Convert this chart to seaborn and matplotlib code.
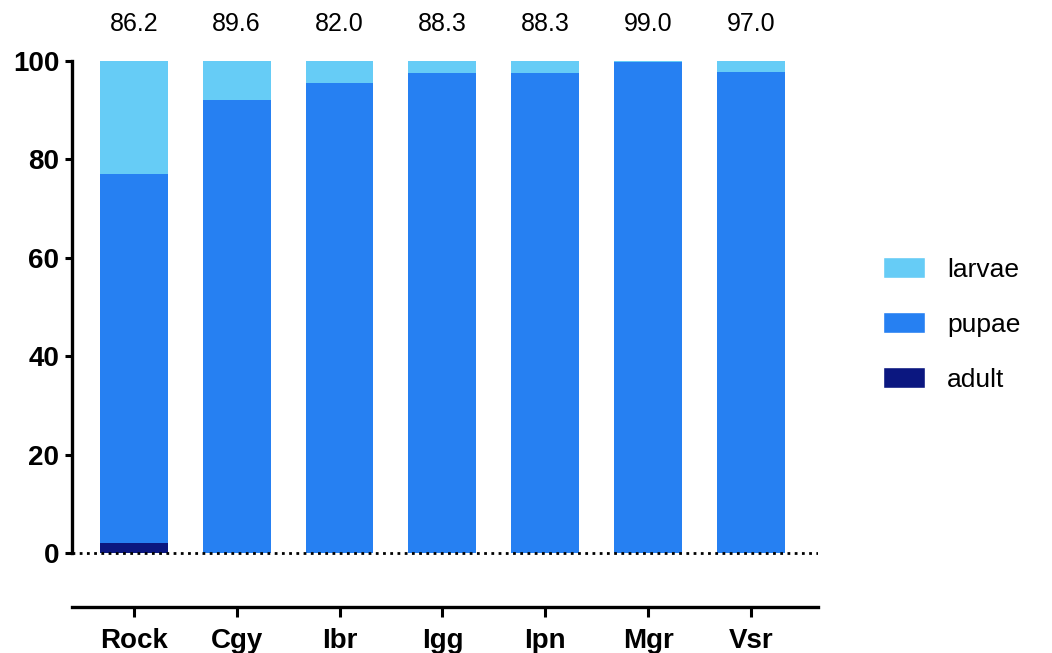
import matplotlib
matplotlib.use("Agg")
import matplotlib.pyplot as plt
from matplotlib.patches import Patch
import seaborn as sns
import pandas as pd

# Stage composition (%) per site
sites = ["Rock", "Cgy", "Ibr", "Igg", "Ipn", "Mgr", "Vsr"]
adult = [2.0, 0.0, 0.0, 0.0, 0.0, 0.0, 0.0]
pupae = [75.0, 92.0, 95.5, 97.5, 97.6, 99.7, 97.8]
larvae = [23.0, 8.0, 4.5, 2.5, 2.4, 0.3, 2.2]
# Values printed above each bar
top_values = [86.2, 89.6, 82.0, 88.3, 88.3, 99.0, 97.0]
y_ticks = [0, 20, 40, 60, 80, 100]

col_larvae = "#66CCF6"
col_pupae = "#2680F2"
col_adult = "#0B1780"

df = pd.DataFrame({"site": sites, "adult": adult, "pupae": pupae, "larvae": larvae})
df["cum_adult"] = df["adult"]
df["cum_pupae"] = df["adult"] + df["pupae"]
df["cum_larvae"] = df["cum_pupae"] + df["larvae"]

sns.set_theme(style="white", rc={"text.color": "black", "xtick.color": "black",
                                 "ytick.color": "black", "axes.labelcolor": "black"})
plt.rcParams["font.family"] = ["Liberation Sans", "DejaVu Sans"]

fig = plt.figure(figsize=(10.52, 6.53), dpi=100)
ax = fig.add_axes([0.0684, 0.0704, 0.7092, 0.8362])

bar_w = 0.66
for col, color in [("cum_larvae", col_larvae), ("cum_pupae", col_pupae), ("cum_adult", col_adult)]:
    sns.barplot(data=df, x="site", y=col, color=color, width=bar_w,
                saturation=1, ax=ax, order=sites, linewidth=0)

ax.set_xlim(-0.6, 6.65)
ax.set_ylim(-11, 100)
ax.set_xlabel("")
ax.set_ylabel("")

# Dotted baseline at zero
ax.axhline(0, color="black", linestyle=(0, (1, 1.6)), linewidth=2, zorder=5)

for spine in ["top", "right"]:
    ax.spines[spine].set_visible(False)
ax.spines["left"].set_bounds(0, 100)
ax.spines["left"].set_linewidth(2.4)
ax.spines["bottom"].set_linewidth(2.4)
ax.spines["left"].set_color("black")
ax.spines["bottom"].set_color("black")

ax.set_yticks(y_ticks)
ax.set_yticklabels([str(t) for t in y_ticks], fontsize=20, fontweight="bold")
ax.set_xticks(range(len(sites)))
ax.set_xticklabels(sites, fontsize=20, fontweight="bold")
ax.tick_params(axis="y", which="major", left=True, length=5, width=2.2, pad=4, color="black",
               labelcolor="black")
ax.tick_params(axis="x", which="major", bottom=True, length=7, width=2.2, pad=8, color="black",
               labelcolor="black")

for i, v in enumerate(top_values):
    ax.text(i, 107.5, f"{v:.1f}", ha="center", va="center", fontsize=18, color="black",
            clip_on=False)

handles = [Patch(facecolor=col_larvae, label="larvae"),
           Patch(facecolor=col_pupae, label="pupae"),
           Patch(facecolor=col_adult, label="adult")]
leg = fig.legend(handles=handles, loc="center left", bbox_to_anchor=(0.8265, 0.503),
                 frameon=False, fontsize=19, handlelength=1.6, handleheight=0.85,
                 labelspacing=1.15, handletextpad=0.85, borderpad=0)
for t in leg.get_texts():
    t.set_color("black")

fig.savefig("out.png", dpi=100)
